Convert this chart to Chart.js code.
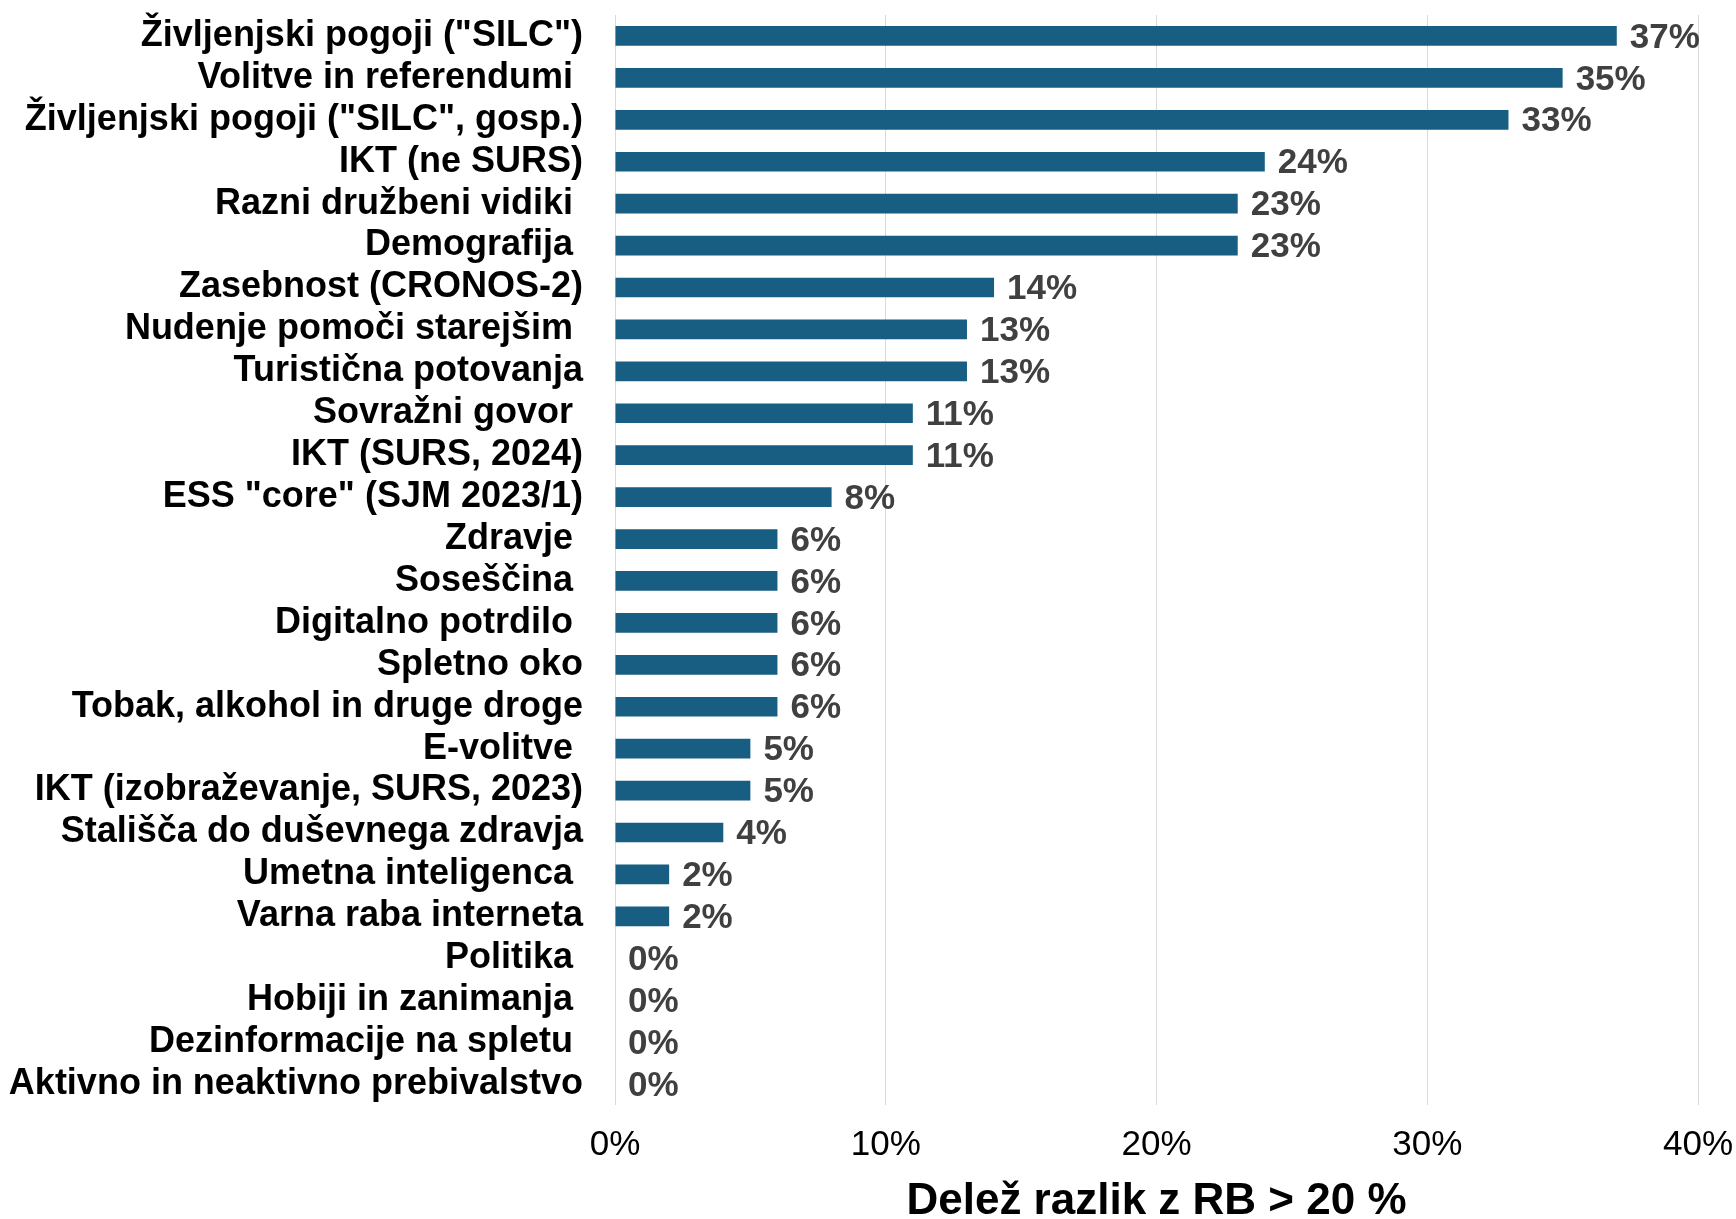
<!DOCTYPE html>
<html>
<head>
<meta charset="utf-8">
<script src="https://cdn.jsdelivr.net/npm/chart.js@4/dist/chart.umd.min.js"></script>
<style>
  body { margin: 0; background: #fff; }
  #wrap { width: 1736px; height: 1219px; }
</style>
</head>
<body>
<div id="wrap"><canvas id="chart"></canvas></div>
<script>
// DATA
const categories = [
    'Življenjski pogoji ("SILC")',
    'Volitve in referendumi ',
    'Življenjski pogoji ("SILC", gosp.)',
    'IKT (ne SURS)',
    'Razni družbeni vidiki ',
    'Demografija ',
    'Zasebnost (CRONOS-2)',
    'Nudenje pomoči starejšim ',
    'Turistična potovanja',
    'Sovražni govor ',
    'IKT (SURS, 2024)',
    'ESS "core" (SJM 2023/1)',
    'Zdravje ',
    'Soseščina ',
    'Digitalno potrdilo ',
    'Spletno oko',
    'Tobak, alkohol in druge droge',
    'E-volitve ',
    'IKT (izobraževanje, SURS, 2023)',
    'Stališča do duševnega zdravja',
    'Umetna inteligenca ',
    'Varna raba interneta',
    'Politika ',
    'Hobiji in zanimanja ',
    'Dezinformacije na spletu ',
    'Aktivno in neaktivno prebivalstvo'
];
const shares = [37, 35, 33, 24, 23, 23, 14, 13, 13, 11, 11, 8, 6, 6, 6, 6, 6, 5, 5, 4, 2, 2, 0, 0, 0, 0];
const xTicks = [0, 10, 20, 30, 40];
const axisTitle = 'Delež razlik z RB > 20 %';

// VALUE LABELS AT BAR ENDS
const barLabels = {
    id: 'barLabels',
    afterDatasetsDraw(chart){
        let ctx = chart.ctx;
        let meta = chart.getDatasetMeta(0);
        ctx.save();
        ctx.font = 'bold 35px "Liberation Sans", Arial, sans-serif';
        ctx.fillStyle = '#404040';
        ctx.textAlign = 'left';
        ctx.textBaseline = 'middle';
        meta.data.forEach(function(bar, i){
            ctx.fillText(shares[i] + '%', bar.x + 13, bar.y + 2);
        });
        ctx.restore();
    }
};

let ctx = document.getElementById('chart').getContext('2d');
let myChart = new Chart(ctx, {
    type: 'bar',
    data: {
        labels: categories,
        datasets: [{
            data: shares,
            backgroundColor: '#175e82',
            borderWidth: 0,
            barPercentage: 0.47,
            categoryPercentage: 1
        }]
    },
    plugins: [barLabels],
    options: {
        indexAxis: 'y',
        responsive: true,
        maintainAspectRatio: false,
        animation: false,
        layout: {
            padding: { top: 15, right: 38, left: 0, bottom: 0 }
        },
        plugins: {
            legend: { display: false },
            tooltip: { enabled: false }
        },
        scales: {
            x: {
                min: 0,
                max: 40,
                afterBuildTicks: function(scale){
                    scale.ticks = xTicks.map(function(v){ return { value: v }; });
                },
                afterFit: function(scale){
                    scale.height = 114;
                    scale.paddingLeft = 0;
                    scale.paddingRight = 0;
                },
                grid: { color: '#d9d9d9', lineWidth: 1, drawTicks: false },
                border: { display: false },
                ticks: {
                    padding: 19,
                    color: '#000',
                    font: { family: '"Liberation Sans", Arial, sans-serif', size: 35 },
                    callback: function(v){ return v + '%'; }
                },
                title: {
                    display: true,
                    text: axisTitle,
                    color: '#000',
                    padding: { top: 0, bottom: 0 },
                    font: { family: '"Liberation Sans", Arial, sans-serif', size: 44, weight: 'bold', lineHeight: 0.8 }
                }
            },
            y: {
                afterFit: function(scale){
                    scale.width = 615;
                    scale.paddingTop = 0;
                    scale.paddingBottom = 0;
                },
                grid: { display: false, drawTicks: false },
                border: { display: false },
                ticks: {
                    padding: 32,
                    color: '#000',
                    autoSkip: false,
                    font: { family: '"Liberation Sans", Arial, sans-serif', size: 36, weight: 'bold' }
                }
            }
        }
    }
});
</script>
</body>
</html>
